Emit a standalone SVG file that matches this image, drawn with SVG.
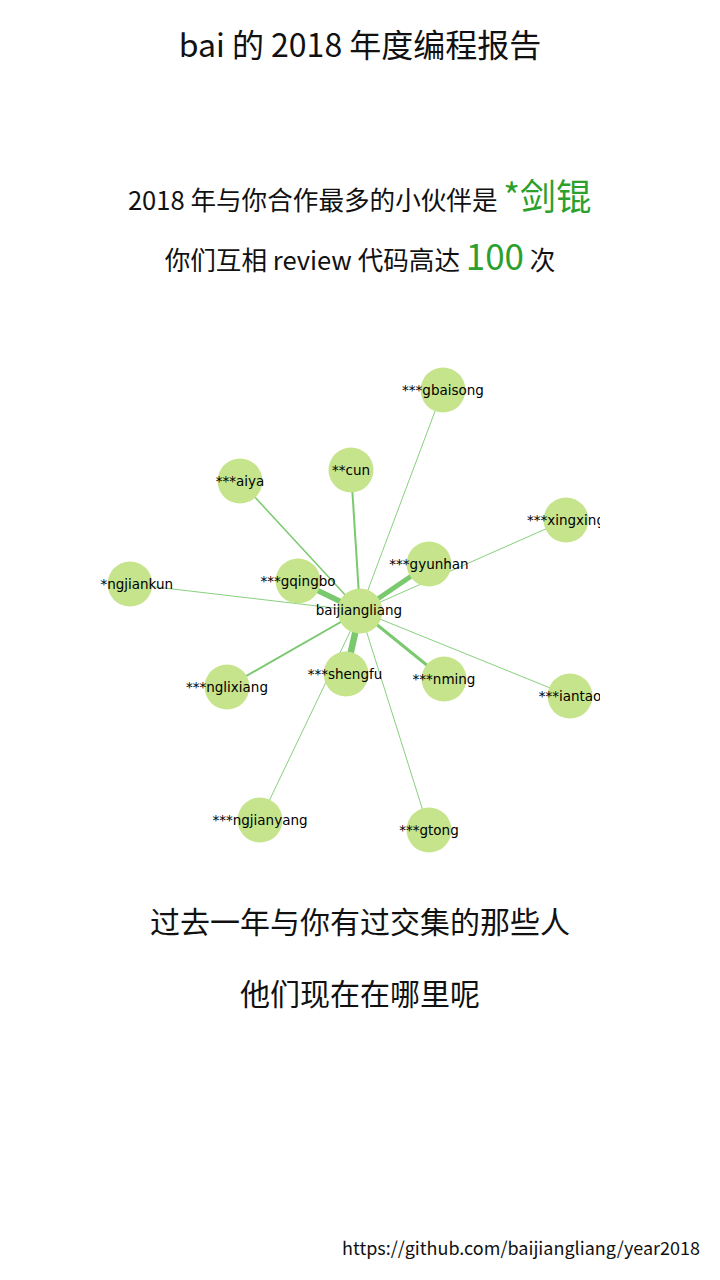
<svg xmlns="http://www.w3.org/2000/svg" width="720" height="1280" viewBox="0 0 720 1280">
  <defs>
    <clipPath id="graphClip"><rect x="100" y="340" width="500" height="540"/></clipPath>
    <style>
      .txt { font-family: "Noto Sans CJK SC", "Noto Sans", sans-serif; fill: #111; }
      .hl { fill: #2ca02c; }
      .node circle { fill: #c6e48b; }
      .node text { font-family: "DejaVu Sans", sans-serif; font-size: 13.5px; fill: #000; text-anchor: middle; }
      .edge { stroke: #7bc96f; fill: none; }
    </style>
  </defs>
  <rect width="720" height="1280" fill="#fff"/>

  <text class="txt" x="360" y="57" font-size="32" text-anchor="middle">bai 的 2018 年度编程报告</text>

  <text class="txt" x="360" y="210" font-size="25.6" text-anchor="middle">2018 年与你合作最多的小伙伴是 <tspan class="hl" font-size="36">*剑锟</tspan></text>
  <text class="txt" x="360" y="270" font-size="25.6" text-anchor="middle">你们互相 review 代码高达 <tspan class="hl" font-size="35">100</tspan> 次</text>

  <g clip-path="url(#graphClip)">
    <g id="connectors">
      <line class="edge" x1="360" y1="611" x2="443" y2="390" stroke-width="0.9"/>
      <line class="edge" x1="360" y1="611" x2="240" y2="481" stroke-width="1.5"/>
      <line class="edge" x1="360" y1="611" x2="351" y2="470" stroke-width="2"/>
      <line class="edge" x1="360" y1="611" x2="130" y2="584" stroke-width="0.9"/>
      <line class="edge" x1="360" y1="611" x2="298" y2="581" stroke-width="5.5"/>
      <line class="edge" x1="360" y1="611" x2="429" y2="564" stroke-width="5"/>
      <line class="edge" x1="360" y1="611" x2="566" y2="520" stroke-width="0.9"/>
      <line class="edge" x1="360" y1="611" x2="346" y2="674" stroke-width="6.5"/>
      <line class="edge" x1="360" y1="611" x2="227" y2="687" stroke-width="2"/>
      <line class="edge" x1="360" y1="611" x2="260" y2="820" stroke-width="0.9"/>
      <line class="edge" x1="360" y1="611" x2="444" y2="679" stroke-width="3"/>
      <line class="edge" x1="360" y1="611" x2="570" y2="696" stroke-width="0.9"/>
      <line class="edge" x1="360" y1="611" x2="429" y2="830" stroke-width="0.9"/>
    </g>
    <g id="n-gbaisong" class="node"><circle cx="443" cy="390" r="22.5"/><text x="443" y="395">***gbaisong</text></g>
    <g id="n-aiya" class="node"><circle cx="240" cy="481" r="22.5"/><text x="240" y="486">***aiya</text></g>
    <g id="n-cun" class="node"><circle cx="351" cy="470" r="22.5"/><text x="351" y="475">**cun</text></g>
    <g id="n-ngjiankun" class="node"><circle cx="130" cy="584" r="22.5"/><text x="130" y="589">***ngjiankun</text></g>
    <g id="n-gqingbo" class="node"><circle cx="298" cy="581" r="22.5"/><text x="298" y="586">***gqingbo</text></g>
    <g id="n-gyunhan" class="node"><circle cx="429" cy="564" r="22.5"/><text x="429" y="569">***gyunhan</text></g>
    <g id="n-xingxing" class="node"><circle cx="566" cy="520" r="22.5"/><text x="566" y="525">***xingxing</text></g>
    <g id="n-baijiangliang" class="node"><circle cx="360" cy="611" r="22.5"/><text x="359" y="615">baijiangliang</text></g>
    <g id="n-shengfu" class="node"><circle cx="346" cy="674" r="22.5"/><text x="345" y="679">***shengfu</text></g>
    <g id="n-nglixiang" class="node"><circle cx="227" cy="687" r="22.5"/><text x="227" y="692">***nglixiang</text></g>
    <g id="n-ngjianyang" class="node"><circle cx="260" cy="820" r="22.5"/><text x="260" y="825">***ngjianyang</text></g>
    <g id="n-nming" class="node"><circle cx="444" cy="679" r="22.5"/><text x="444" y="684">***nming</text></g>
    <g id="n-iantao" class="node"><circle cx="570" cy="696" r="22.5"/><text x="570" y="701">***iantao</text></g>
    <g id="n-gtong" class="node"><circle cx="429" cy="830" r="22.5"/><text x="429" y="835">***gtong</text></g>
  </g>

  <text class="txt" x="360" y="933" font-size="30" text-anchor="middle">过去一年与你有过交集的那些人</text>
  <text class="txt" x="360" y="1005" font-size="30" text-anchor="middle">他们现在在哪里呢</text>

  <text class="txt" x="700" y="1255" font-size="18" text-anchor="end">https://github.com/baijiangliang/year2018</text>
</svg>
